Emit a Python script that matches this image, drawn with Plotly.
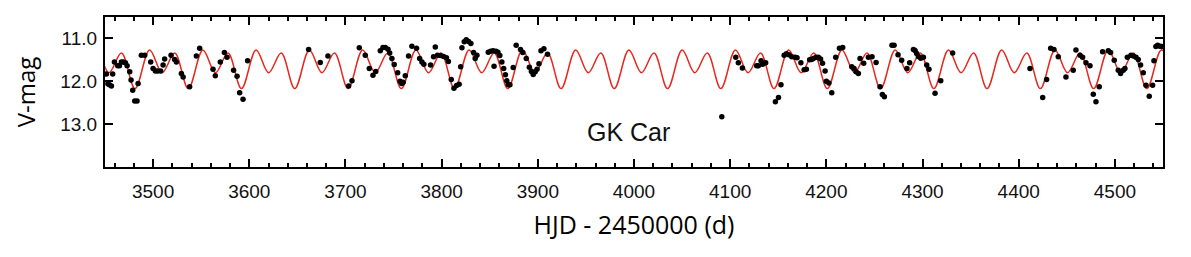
import plotly.graph_objects as go

obs_day = [
    3451.5, 3453.0, 3454.6, 3456.7, 3458.0, 3459.8, 3463.2, 3465.0, 3467.0, 3469.1,
    3471.2, 3473.0, 3475.7, 3477.1, 3478.8, 3480.9, 3483.3, 3484.4, 3487.8, 3491.3,
    3497.5, 3500.0, 3502.4, 3504.8, 3507.9, 3510.4, 3512.0, 3518.7, 3522.4, 3524.2,
    3529.4, 3531.2, 3538.0, 3545.0, 3548.4, 3562.3, 3564.7, 3569.9, 3574.1, 3576.9,
    3583.7, 3587.3, 3590.0, 3593.5, 3598.3, 3661.7, 3673.8, 3681.8, 3703.3, 3706.8,
    3714.4, 3720.6, 3724.8, 3728.6, 3731.5, 3736.2, 3739.0, 3741.4, 3744.2, 3746.0,
    3748.3, 3750.7, 3754.3, 3756.8, 3758.5, 3760.0, 3762.2, 3765.6, 3769.1, 3773.9,
    3777.1, 3779.5, 3781.5, 3788.5, 3791.6, 3793.4, 3795.7, 3798.6, 3802.0, 3805.0,
    3807.0, 3810.0, 3812.8, 3815.5, 3818.2, 3819.8, 3821.1, 3823.5, 3825.6, 3828.0,
    3830.4, 3833.2, 3834.9, 3836.7, 3848.5, 3851.0, 3853.5, 3854.5, 3856.5, 3858.5,
    3860.5, 3862.6, 3864.5, 3866.3, 3867.8, 3869.3, 3871.0, 3874.4, 3877.5, 3882.0,
    3884.4, 3888.0, 3891.2, 3893.3, 3895.2, 3897.3, 3899.2, 3901.2, 3903.3, 3906.3,
    3910.1, 4091.3, 4105.8, 4108.5, 4112.7, 4127.6, 4129.3, 4132.1, 4133.8, 4136.9,
    4147.0, 4150.2, 4152.8, 4156.1, 4158.5, 4161.0, 4164.0, 4167.5, 4169.5, 4173.5,
    4176.9, 4179.2, 4182.6, 4184.6, 4186.5, 4189.3, 4191.7, 4194.0, 4196.0, 4198.7,
    4200.0, 4202.6, 4205.6, 4209.7, 4213.6, 4217.0, 4226.4, 4228.8, 4230.9, 4233.3,
    4235.0, 4238.8, 4243.7, 4247.5, 4251.7, 4255.8, 4258.2, 4260.3, 4268.2, 4270.4,
    4274.5, 4278.3, 4283.8, 4286.6, 4290.5, 4292.2, 4293.9, 4295.7, 4298.1, 4300.9,
    4304.3, 4306.7, 4313.0, 4318.9, 4331.3, 4411.7, 4424.9, 4429.0, 4433.2, 4436.6,
    4441.1, 4449.1, 4456.7, 4459.5, 4463.7, 4466.4, 4469.9, 4474.1, 4477.5, 4480.3,
    4483.7, 4487.2, 4493.1, 4495.5, 4499.3, 4503.5, 4505.9, 4508.7, 4510.4, 4512.9,
    4516.7, 4519.1, 4521.9, 4524.3, 4526.7, 4529.5, 4532.3, 4535.7, 4539.2, 4540.6,
    4542.6, 4544.4, 4546.8, 4548.5,
]
obs_mag = [
    11.83, 12.06, 12.08, 12.11, 11.83, 11.55, 11.64, 11.64, 11.55, 11.55,
    11.57, 11.64, 11.78, 11.97, 12.21, 12.46, 12.46, 12.05, 11.39, 11.39,
    11.55, 11.70, 11.76, 11.76, 11.76, 11.62, 11.48, 11.39, 11.49, 11.55,
    11.82, 11.90, 12.13, 11.41, 11.23, 11.72, 11.87, 11.55, 11.33, 11.44,
    11.74, 11.88, 12.27, 12.42, 11.52, 11.26, 11.56, 11.41, 12.11, 11.99,
    11.22, 11.39, 11.70, 11.86, 11.77, 11.29, 11.21, 11.21, 11.25, 11.34,
    11.47, 11.61, 11.80, 12.00, 12.05, 12.02, 11.87, 11.41, 11.18, 11.23,
    11.47, 11.55, 11.60, 11.62, 11.43, 11.20, 11.39, 11.40, 11.42, 11.45,
    11.54, 11.96, 12.16, 12.10, 12.07, 11.66, 11.22, 11.08, 11.03, 11.07,
    11.12, 11.33, 11.47, 11.39, 11.32, 11.30, 11.29, 11.65, 11.30, 11.32,
    11.40, 11.55, 11.70, 11.85, 11.99, 12.08, 12.08, 11.68, 11.16, 11.26,
    11.33, 11.47, 11.67, 11.77, 11.84, 11.78, 11.72, 11.59, 11.29, 11.24,
    11.37, 12.83, 11.44, 11.57, 11.69, 11.64, 11.64, 11.52, 11.60, 11.57,
    12.48, 12.38, 12.08, 11.39, 11.36, 11.38, 11.43, 11.44, 11.45, 11.57,
    11.73, 11.72, 11.50, 11.49, 11.47, 11.44, 11.44, 11.48, 11.58, 11.76,
    12.00, 12.04, 12.27, 11.44, 11.23, 11.21, 11.66, 11.70, 11.78, 11.82,
    11.47, 11.58, 11.44, 11.43, 11.56, 12.13, 12.31, 12.36, 11.16, 11.16,
    11.38, 11.51, 11.70, 11.57, 11.26, 11.28, 11.35, 11.42, 11.46, 11.44,
    11.62, 11.72, 12.28, 11.99, 11.34, 11.70, 12.38, 11.96, 11.23, 11.26,
    11.43, 11.90, 11.74, 11.27, 11.39, 11.44, 11.57, 11.64, 12.30, 12.48,
    12.13, 11.31, 11.29, 11.33, 11.51, 11.74, 11.82, 11.74, 11.70, 11.44,
    11.39, 11.41, 11.44, 11.49, 11.62, 11.80, 12.09, 12.35, 12.09, 11.52,
    11.19, 11.16, 11.18, 11.19,
]

# Model curve: turning points (maxima / minima)
fit_day = [
    3425.8, 3441.0, 3454.0, 3467.1,
    3481.2, 3496.4, 3509.4, 3522.5,
    3536.6, 3551.8, 3564.8, 3577.9,
    3591.9, 3607.1, 3620.1, 3633.2,
    3647.3, 3662.5, 3675.5, 3688.6,
    3702.7, 3717.9, 3730.9, 3744.0,
    3758.1, 3773.3, 3786.3, 3799.4,
    3813.4, 3828.6, 3841.6, 3854.7,
    3868.8, 3884.0, 3897.0, 3910.1,
    3924.2, 3939.4, 3952.4, 3965.5,
    3979.5, 3994.7, 4007.7, 4020.8,
    4034.9, 4050.1, 4063.1, 4076.2,
    4090.3, 4105.5, 4118.5, 4131.6,
    4145.6, 4160.8, 4173.8, 4186.9,
    4201.0, 4216.2, 4229.2, 4242.3,
    4256.4, 4271.6, 4284.6, 4297.7,
    4311.8, 4327.0, 4340.0, 4353.1,
    4367.1, 4382.3, 4395.3, 4408.4,
    4422.5, 4437.7, 4450.7, 4463.8,
    4477.9, 4493.1, 4506.1, 4519.2,
    4533.2, 4548.4, 4561.4,
]
fit_mag = [
    12.17, 11.27, 11.80, 11.34,
    12.17, 11.27, 11.80, 11.34,
    12.17, 11.27, 11.80, 11.34,
    12.17, 11.27, 11.80, 11.34,
    12.17, 11.27, 11.80, 11.34,
    12.17, 11.27, 11.80, 11.34,
    12.17, 11.27, 11.80, 11.34,
    12.17, 11.27, 11.80, 11.34,
    12.17, 11.27, 11.80, 11.34,
    12.17, 11.27, 11.80, 11.34,
    12.17, 11.27, 11.80, 11.34,
    12.17, 11.27, 11.80, 11.34,
    12.17, 11.27, 11.80, 11.34,
    12.17, 11.27, 11.80, 11.34,
    12.17, 11.27, 11.80, 11.34,
    12.17, 11.27, 11.80, 11.34,
    12.17, 11.27, 11.80, 11.34,
    12.17, 11.27, 11.80, 11.34,
    12.17, 11.27, 11.80, 11.34,
    12.17, 11.27, 11.80, 11.34,
    12.17, 11.27, 11.80,
]

x_tick_vals = [3500, 3600, 3700, 3800, 3900, 4000, 4100, 4200, 4300, 4400, 4500]
y_tick_vals = [11.0, 12.0, 13.0]
y_tick_text = ["11.0", "12.0", "13.0"]

fig = go.Figure()
fig.add_trace(go.Scatter(
    x=fit_day, y=fit_mag, mode="lines",
    line=dict(color="#e8261c", width=1.5, shape="spline", smoothing=1.0),
    hoverinfo="skip", showlegend=False,
))
fig.add_trace(go.Scatter(
    x=obs_day, y=obs_mag, mode="markers",
    marker=dict(color="black", size=5.5, line=dict(width=0)),
    showlegend=False,
))

fig.add_annotation(
    x=3994, y=13.18, xref="x", yref="y", text="GK Car", showarrow=False,
    font=dict(family="Liberation Sans, Arial, sans-serif", size=25, color="#111"),
)

fig.update_xaxes(
    range=[3450, 4550], tickvals=x_tick_vals, automargin=False,
    showline=True, linewidth=2, linecolor="black", mirror="ticks",
    ticks="inside", ticklen=8, tickwidth=1.5, tickcolor="black",
    minor=dict(dtick=20, tick0=3500, ticks="inside", ticklen=4, tickwidth=1.5, tickcolor="black"),
    showgrid=False, zeroline=False,
    tickfont=dict(family="Liberation Sans, Arial, sans-serif", size=19, color="#111"),
    ticklabelstandoff=6,
    title=dict(text="HJD - 2450000 (d)", standoff=16,
               font=dict(family="Open Sans, sans-serif", size=25, color="black")),
)
fig.update_yaxes(
    range=[14.0, 10.5], tickvals=y_tick_vals, ticktext=y_tick_text, automargin=False,
    showline=True, linewidth=2, linecolor="black", mirror="ticks",
    ticks="inside", ticklen=8, tickwidth=1.5, tickcolor="black",
    showgrid=False, zeroline=False,
    tickfont=dict(family="Liberation Sans, Arial, sans-serif", size=19, color="#111"),
    ticklabelstandoff=2,
    title=dict(text="V-mag", standoff=18,
               font=dict(family="Open Sans, sans-serif", size=24, color="black")),
)

# The page body adds an 8 px offset, so the figure is sized to end at the window edge
fig.update_layout(
    width=1183, height=249,
    margin=dict(l=97, r=28, t=9, b=90),
    paper_bgcolor="white", plot_bgcolor="white",
)

fig.write_html("out.html")
